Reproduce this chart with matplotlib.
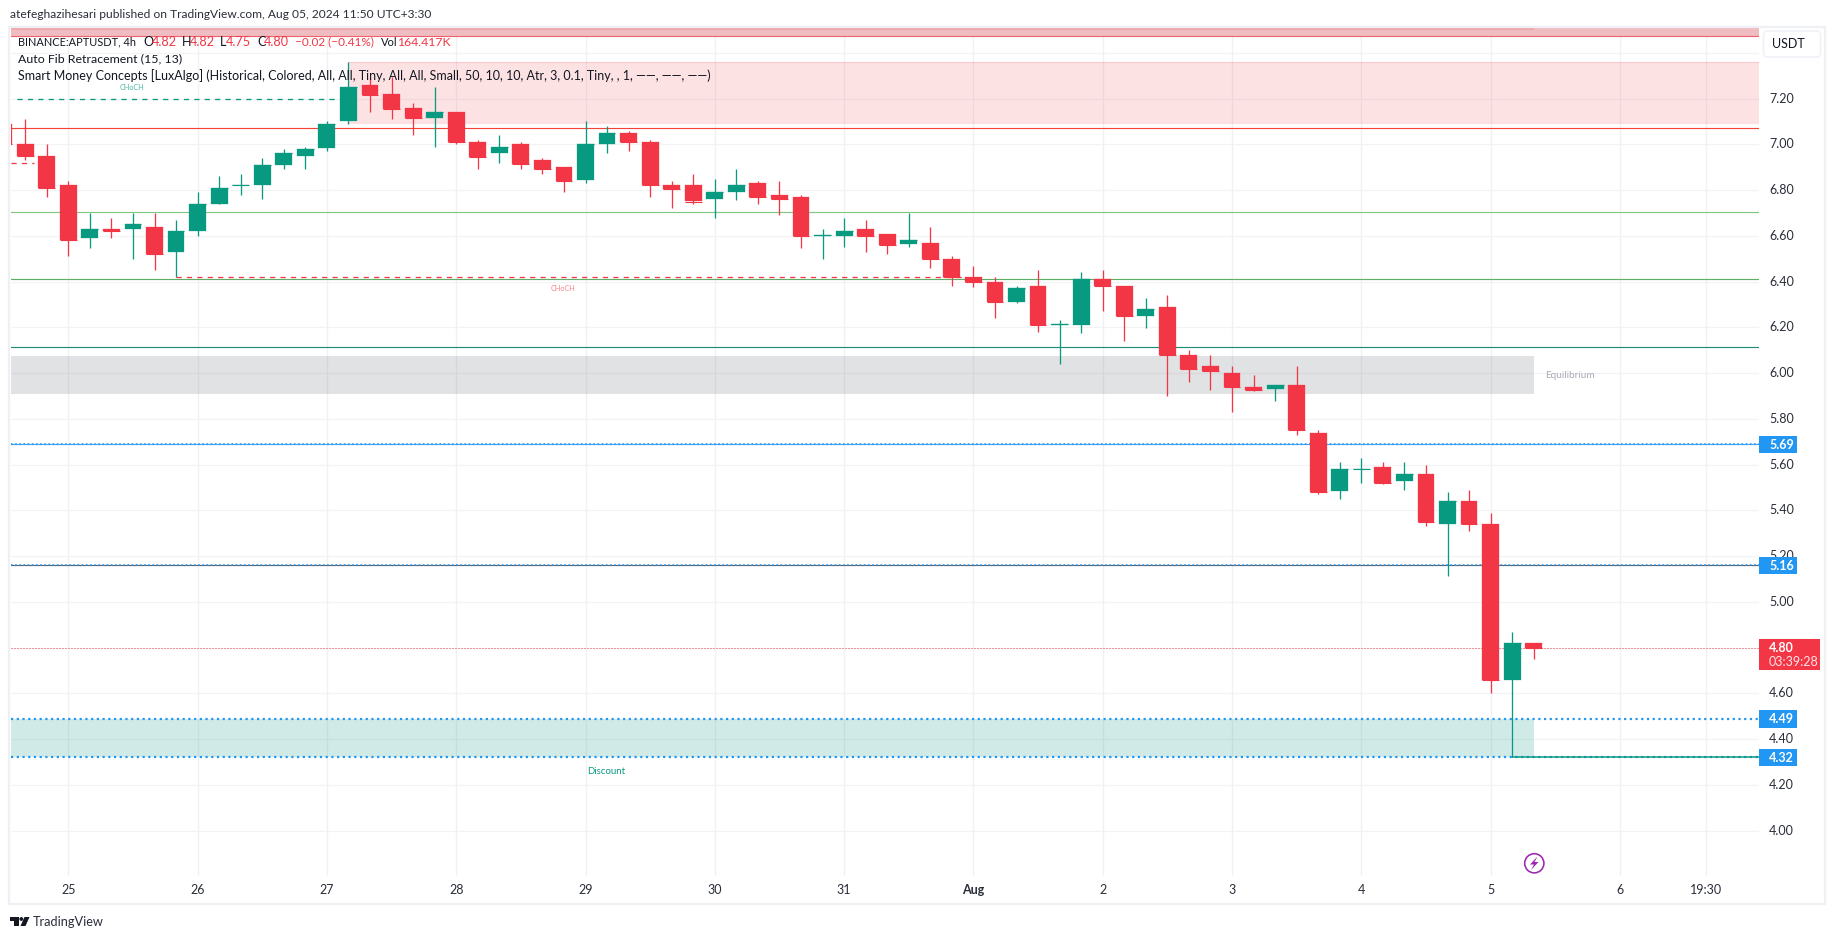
import numpy as np
import matplotlib
matplotlib.use("Agg")
import matplotlib.pyplot as plt
from matplotlib.patches import Rectangle, FancyBboxPatch, Circle, Polygon

# ---- data -----------------------------------------------------------------
opens = [7.09,7.00,6.95,6.82,6.59,6.63,6.63,6.64,6.53,6.62,6.74,6.82,6.82,6.91,6.95,6.985,7.10,7.26,7.22,7.16,
         7.115,7.14,7.01,6.96,7.00,6.93,6.90,6.845,7.00,7.05,7.01,6.82,6.82,6.76,6.79,6.83,6.78,6.77,6.60,6.60,
         6.63,6.61,6.565,6.57,6.50,6.42,6.40,6.31,6.38,6.21,6.21,6.41,6.38,6.25,6.29,6.08,6.03,6.00,5.94,5.93,
         5.95,5.74,5.485,5.58,5.59,5.53,5.56,5.34,5.44,5.34,4.66,4.82]
closes = [7.00,6.95,6.81,6.58,6.63,6.62,6.65,6.52,6.62,6.74,6.81,6.823,6.91,6.96,6.98,7.09,7.25,7.215,7.155,7.115,
          7.14,7.01,6.945,6.99,6.915,6.89,6.84,7.00,7.05,7.01,6.82,6.805,6.75,6.79,6.82,6.77,6.76,6.60,6.603,6.62,
          6.60,6.56,6.58,6.50,6.42,6.40,6.31,6.37,6.21,6.213,6.41,6.38,6.25,6.28,6.08,6.02,6.01,5.94,5.925,5.95,
          5.75,5.48,5.58,5.583,5.52,5.56,5.35,5.44,5.34,4.66,4.82,4.80]
highs = [7.11,7.11,7.00,6.84,6.70,6.68,6.70,6.70,6.67,6.79,6.86,6.87,6.94,6.98,6.99,7.10,7.36,7.29,7.295,7.18,
         7.25,7.14,7.02,7.04,7.01,6.94,6.90,7.10,7.08,7.06,7.02,6.84,6.87,6.85,6.89,6.84,6.84,6.78,6.63,6.68,
         6.67,6.61,6.70,6.64,6.51,6.47,6.42,6.38,6.45,6.23,6.44,6.45,6.38,6.33,6.34,6.10,6.08,6.03,5.99,5.95,
         6.03,5.75,5.61,5.63,5.61,5.61,5.60,5.48,5.49,5.39,4.87,4.82]
lows = [6.99,6.93,6.77,6.51,6.545,6.59,6.50,6.45,6.42,6.60,6.74,6.78,6.76,6.89,6.89,6.97,7.09,7.14,7.11,7.04,
        6.99,7.00,6.89,6.92,6.89,6.87,6.79,6.83,6.96,6.97,6.77,6.72,6.74,6.68,6.755,6.74,6.69,6.545,6.50,6.55,
        6.53,6.52,6.55,6.46,6.38,6.375,6.24,6.305,6.18,6.04,6.175,6.27,6.14,6.195,5.90,5.96,5.925,5.83,5.92,5.88,
        5.73,5.47,5.45,5.52,5.515,5.49,5.33,5.115,5.31,4.60,4.32,4.75]
first_bar = -3               # bars are counted from 25 Jul 00:00 slot, six per day

price_ticks = [7.2,7.0,6.8,6.6,6.4,6.2,6.0,5.8,5.6,5.4,5.2,5.0,4.6,4.4,4.2,4.0]
grid_prices = [7.4,7.2,7.0,6.8,6.6,6.4,6.2,6.0,5.8,5.6,5.4,5.2,5.0,4.8,4.6,4.4,4.2,4.0]
time_labels = ['25','26','27','28','29','30','31','Aug','2','3','4','5','6','19:30']
time_bars   = [0,6,12,18,24,30,36,42,48,54,60,66,72,76]

red_line, light_green_line, green_line, teal_line = 7.07, 6.703, 6.41, 6.113
premium_zone = (7.092, 7.36)
equilibrium_zone = (5.91, 6.075)
discount_zone = (4.32, 4.49)
top_band = (7.472, 7.52)
fib_blue = [5.69, 5.16, 4.49, 4.32]
last_price = 4.80
choch_up = 7.20
choch_down = 6.418
old_dash = 6.917

RED, GREEN, BLUE = '#f23645', '#089981', '#2196f3'
FONT = ['Lato', 'DejaVu Sans']
plt.rcParams['font.family'] = FONT

W, H = 1835, 939
fig = plt.figure(figsize=(W/100, H/100), dpi=100, facecolor='white')

# pixel layout of the chart pane
L, R, T, B = 10.5, 1759, 27, 876
X0, DX = 68.3, 21.55
Y6, DY = 373.1, 228.8
ax = fig.add_axes([L/W, 1-B/H, (R-L)/W, (B-T)/H])
ax.set_xlim((L-X0)/DX, (R-X0)/DX)
ax.set_ylim(6-(B-Y6)/DY, 6+(Y6-T)/DY)
for s in ax.spines.values():
    s.set_visible(False)
ax.set_xticks([]); ax.set_yticks([])

px = 0.72
# grid
ax.hlines(grid_prices, *ax.get_xlim(), color='#f2f3f5', lw=1.3*px, zorder=1)
ax.vlines(time_bars, *ax.get_ylim(), color='#f0f1f3', lw=1.3*px, zorder=1)

xmin, xmax = ax.get_xlim()
END = 68.0
# zones
ax.axhspan(top_band[0], top_band[1], color='#eebcc1', lw=0, zorder=2)
ax.fill_between([xmin, END], 7.498, 7.52, color='#efa6ac', lw=0, zorder=2.1)
ax.fill_between([13, xmax], *premium_zone, color=RED, alpha=0.14, lw=0, zorder=2)
ax.hlines(list(premium_zone), 13, xmax, color=RED, alpha=0.15, lw=1.2*px, zorder=2)
ax.fill_between([xmin, END], *equilibrium_zone, color='#787b86', alpha=0.215, lw=0, zorder=2)
ax.fill_between([xmin, END], *discount_zone, color=GREEN, alpha=0.19, lw=0, zorder=2)

# fib / structure lines
ax.axhline(top_band[0], color='#f0606b', lw=1.1*px, zorder=3)
ax.axhline(red_line, color='#f44336', lw=1.15*px, zorder=3)
ax.axhline(light_green_line, color='#81c784', lw=1.15*px, zorder=3)
ax.axhline(green_line, color='#5fae65', lw=1.15*px, zorder=3)
ax.axhline(teal_line, color='#1f8a78', lw=1.15*px, zorder=3)
ax.axhline(fib_blue[0], color='#42a5f5', lw=1.2*px, zorder=3)
ax.axhline(fib_blue[1], color='#5d606b', lw=1.2*px, zorder=3)
for p, lw in zip(fib_blue, [1.6, 1.6, 2.2, 2.2]):
    ax.axhline(p, color=BLUE, lw=lw*px, ls=(0, (1, 1.6)), zorder=3.2)
ax.axhline(last_price, color=RED, lw=1*px, ls=(0, (1, 2)), zorder=3)

# CHoCH lines
ax.hlines(choch_up, -2.4, 13, color=GREEN, lw=1.3*px, ls=(0, (4, 4)), zorder=3)
ax.hlines(old_dash, xmin, -1.6, color=RED, lw=1.3*px, ls=(0, (4, 4)), zorder=3)
ax.hlines(choch_down, 5, 41.5, color=RED, lw=1.3*px, ls=(0, (4, 4)), zorder=3)
ax.hlines(discount_zone[0], 67, xmax, color=GREEN, lw=1.5*px, zorder=3.5)

# candles
idx = np.arange(len(opens)) + first_bar
o, c, h, l = map(np.array, (opens, closes, highs, lows))
up = c >= o
cols = np.where(up, GREEN, RED)
ax.vlines(idx, l, h, colors=cols, lw=1.3*px, zorder=5)
ax.bar(idx, np.abs(c-o), bottom=np.minimum(o, c), width=0.78, color=cols, edgecolor=cols, lw=0.2, zorder=6)
# body edges keep the thinnest bodies at least one pixel tall
ax.hlines(c, idx-0.39, idx+0.39, colors=cols, lw=1.1*px, zorder=6)

# overlay in pixel coordinates
ov = fig.add_axes([0, 0, 1, 1], facecolor='none')
ov.set_xlim(0, W); ov.set_ylim(H, 0); ov.axis('off')
py = lambda p: Y6 - (p-6)*DY
bx = lambda i: X0 + i*DX

# frame
ov.add_patch(Rectangle((9, 27), 1816, 877, fill=False, ec='#eff0f5', lw=2.2*px, zorder=1))

# tick labels
FS = 9.0
for p in price_ticks:
    ov.text(1769, py(p), f'{p:.2f}', fontsize=FS, color='#2a2e39', va='center', ha='left', zorder=2)
for b, t in zip(time_bars, time_labels):
    ov.text(bx(b), 889.5, t, fontsize=FS, color='#2a2e39', va='center', ha='center',
            fontweight='bold' if t == 'Aug' else 'normal', zorder=2)

# currency button
ov.add_patch(FancyBboxPatch((1765, 32.5), 54, 23, boxstyle='round,pad=1.5,rounding_size=4',
                            fc='white', ec='#eff1f7', lw=1.6*px))
ov.text(1772, 44.5, 'USDT', fontsize=FS, color='#131722', va='center', ha='left')

# price labels
for p in fib_blue:
    ov.add_patch(Rectangle((1759, py(p)-8.5), 38, 17.5, fc=BLUE, ec='none', zorder=3))
    ov.text(1769, py(p)+0.5, f'{p:.2f}', fontsize=FS, color='white', fontweight='bold', va='center', zorder=4)
ov.add_patch(Rectangle((1759, 639), 61, 31, fc=RED, ec='none', zorder=3))
ov.text(1769, 647.5, f'{last_price:.2f}', fontsize=FS, color='white', fontweight='bold', va='center', zorder=4)
ov.text(1769, 661.5, '03:39:28', fontsize=FS, color='#ffe3e6', va='center', zorder=4)

# header & legend
ov.text(10, 15, 'atefeghazihesari published on TradingView.com, Aug 05, 2024 11:50 UTC+3:30',
        fontsize=8.65, color='#2a2e39', va='center')
LS = 9.05
for x, s, col, fs in [(18, 'BINANCE:APTUSDT, 4h', '#131722', 7.9), (143, 'O', '#131722', LS), (152, '4.82', RED, LS),
                      (182, 'H', '#131722', LS), (190, '4.82', RED, LS), (220, 'L', '#131722', LS), (226, '4.75', RED, LS),
                      (257, 'C', '#131722', LS), (264, '4.80', RED, LS), (294.5, '\u22120.02 (\u22120.41%)', RED, 8.5),
                      (381, 'Vol', '#131722', 8.0), (397, '164.417K', RED, 8.8)]:
    ov.text(x, 42, s, fontsize=fs, color=col, va='center', zorder=8)
ov.text(18, 59, 'Auto Fib Retracement (15, 13)', fontsize=8.9, color='#131722', va='center', zorder=8)
ov.text(18, 76, 'Smart Money Concepts [LuxAlgo] (Historical, Colored, All, All, Tiny, All, All, Small, 50, 10, 10, '
                'Atr, 3, 0.1, Tiny, , 1, \u2014\u2014, \u2014\u2014, \u2014\u2014)',
        fontsize=9.0, color='#131722', va='center', zorder=8)

# zone / structure labels
ov.text(132, 87, 'CHoCH', fontsize=5.2, color='#4cb8a6', ha='center', va='center', zorder=8)
ov.text(563, 288.5, 'CHoCH', fontsize=5.2, color='#f9808c', ha='center', va='center', zorder=8)
ov.text(1570, 375.5, 'Equilibrium', fontsize=7.2, color='#a9acb6', ha='center', va='center', zorder=8)
ov.text(606, 772, 'Discount', fontsize=6.9, color=GREEN, ha='center', va='center', zorder=8)

# bolt icon
ov.add_patch(Circle((1534.3, 863.3), 9.6, fc='white', ec='#9c27b0', lw=1.6*px, zorder=8))
ov.add_patch(Polygon([(1537.5, 856.5), (1530, 864.5), (1534, 864.5), (1531, 870), (1538.5, 862), (1534.5, 862)],
                     closed=True, fc='#9c27b0', ec='none', zorder=9))

# TradingView logo
ov.add_patch(Polygon([(10, 917), (18.5, 917), (18.5, 926), (14, 926), (14, 920.5), (10, 920.5)],
                     closed=True, fc='#131722', ec='none'))
ov.add_patch(Circle((21.3, 919), 1.9, fc='#131722', ec='none'))
ov.add_patch(Polygon([(24.5, 917), (29.5, 917), (25.5, 926), (20.5, 926)], closed=True, fc='#131722', ec='none'))
ov.text(33, 921.5, 'TradingView', fontsize=9.2, color='#2a2e39', va='center')

fig.savefig('out.png', dpi=100)
